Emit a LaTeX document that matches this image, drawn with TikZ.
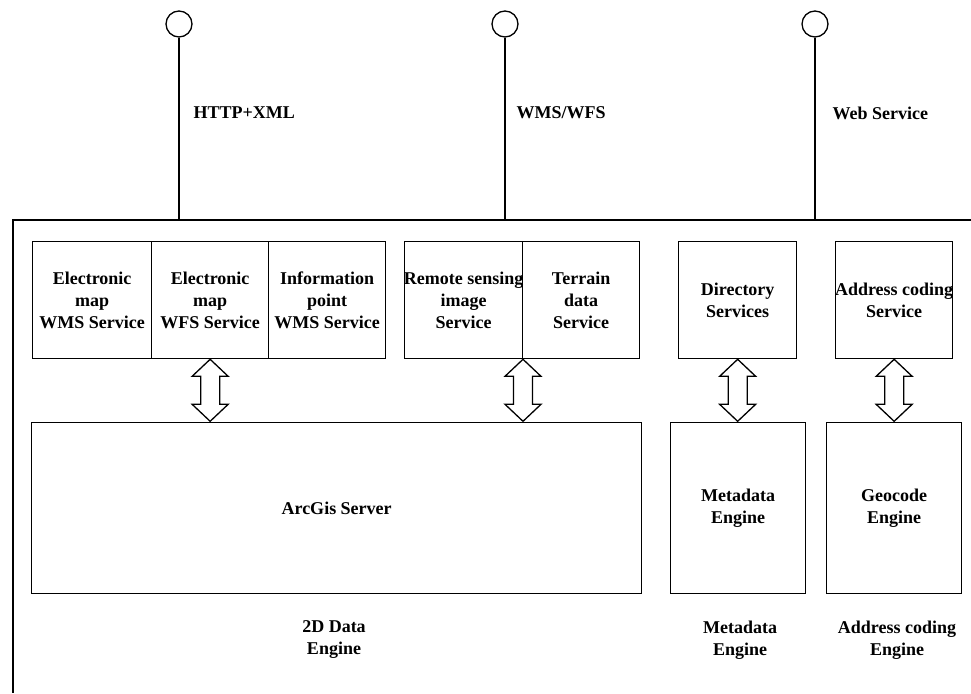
\documentclass[tikz,border=0pt]{standalone}
\usepackage{fontspec}
\setmainfont{Liberation Serif}
\usetikzlibrary{calc}
\newcommand\lblfont{\fontsize{18}{22}\selectfont\bfseries}
\begin{document}
\begin{tikzpicture}[x=1pt,y=-1pt,
  line width=1.3pt,
  svcbox/.style={draw, inner sep=0pt, anchor=north west, minimum height=117pt},
  engbox/.style={draw, inner sep=0pt, anchor=north west, minimum height=171pt},
  lbl/.style={inner sep=0pt, align=center, font=\lblfont},
  plbl/.style={inner sep=0pt, anchor=west, font=\lblfont},
  port/.style={circle, draw, minimum size=26pt, inner sep=0pt},
  blk/.style={draw, fill=white, line join=miter}]
\useasboundingbox (0,0) rectangle (971,693);
% outer frame (cropped)
\coordinate (ftr) at (971,220);
\coordinate (ftl) at (13,220);
\coordinate (fbl) at (13,693);
\draw (ftr) -- (ftl) -- (fbl);
% ports
\node[port] (c1) at (179,24) {};
\node[port] (c2) at (505,24) {};
\node[port] (c3) at (815,24) {};
\draw (c1.south) -- (c1.south |- ftl);
\draw (c2.south) -- (c2.south |- ftl);
\draw (c3.south) -- (c3.south |- ftl);
\node[plbl] (p1) at (193,113) {HTTP+XML};
\node[plbl] (p2) at (516,113) {WMS/WFS};
\node[plbl] (p3) at (832,113) {Web Service};
% service boxes
\node[svcbox, minimum width=119pt] (b1) at (32,241) {};
\node[svcbox, minimum width=117pt] (b2) at (151,241) {};
\node[svcbox, minimum width=117pt] (b3) at (268,241) {};
\node[svcbox, minimum width=118pt] (b4) at (404,241) {};
\node[svcbox, minimum width=117pt] (b5) at (522,241) {};
\node[svcbox, minimum width=118pt] (b6) at (678,241) {};
\node[svcbox, minimum width=117pt] (b7) at (835,241) {};
\node[lbl] (t1) at (b1) {Electronic\\map\\WMS Service};
\node[lbl] (t2) at (b2) {Electronic\\map\\WFS Service};
\node[lbl] (t3) at (b3) {Information\\point\\WMS Service};
\node[lbl] (t4) at (b4) {Remote sensing\\image\\Service};
\node[lbl] (t5) at (b5) {Terrain\\data\\Service};
\node[lbl] (t6) at (b6) {Directory\\Services};
\node[lbl] (t7) at (b7) {Address coding\\Service};
% engine boxes
\node[engbox, minimum width=610pt] (e1) at (31,422) {};
\node[engbox, minimum width=135pt] (e2) at (670,422) {};
\node[engbox, minimum width=135pt] (e3) at (826,422) {};
\node[lbl] (u1) at (e1) {ArcGis Server};
\node[lbl] (u2) at (e2) {Metadata\\Engine};
\node[lbl] (u3) at (e3) {Geocode\\Engine};
% group labels
\node[lbl] (g1) at (334,640) {2D Data\\Engine};
\node[lbl] (g2) at (740,640) {Metadata\\Engine};
\node[lbl] (g3) at (897,640) {Address coding\\Engine};
% double block arrows
\coordinate (a1) at (b2.south);
\coordinate (a2) at ($(b5.south west)+(1,0)$);
\coordinate (a3) at (b6.south);
\coordinate (a4) at (b7.south);
\foreach \a in {a1,a2,a3,a4}{
  \draw[blk] (\a) -- ++(18,17) -- ++(-8.5,0) -- ++(0,28) -- ++(8.5,0)
    -- ++(-18,17) -- ++(-18,-17) -- ++(8.5,0) -- ++(0,-28) -- ++(-8.5,0) -- cycle;
}
\end{tikzpicture}
\end{document}
